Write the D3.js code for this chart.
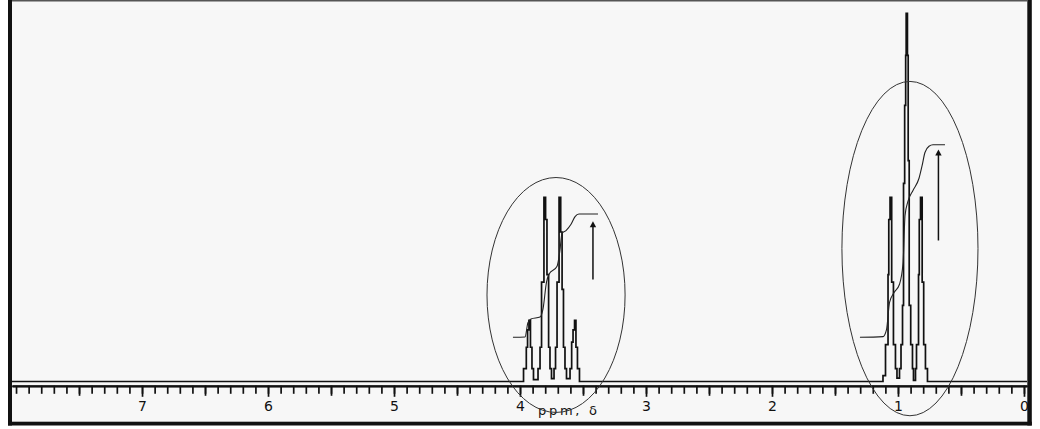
<!DOCTYPE html>
<html>
<head>
<meta charset="utf-8">
<script src="https://cdn.jsdelivr.net/npm/d3@7"></script>
<style>
  html, body { margin: 0; padding: 0; background: #fff; }
  svg { display: block; }
  text { font-family: "DejaVu Sans", sans-serif; }
</style>
</head>
<body>
<svg id="nmr" width="1040" height="429"></svg>
<script>
// labelled ppm ticks and axis title
const majorTicks = [7, 6, 5, 4, 3, 2, 1, 0];
const axisTitle = "ppm, \u03b4";

// stepped trace, [ppm, intensity] (tallest line = 100)
const quartet = [
  [3.972, 3.5], [3.950, 9.3], [3.940, 14.0], [3.929, 16.6], [3.917, 9.3], [3.905, 3.5], [3.893, 0.5],
  [3.857, 3.5], [3.841, 9.3], [3.829, 27.0], [3.810, 50.0], [3.797, 44.0], [3.786, 29.0], [3.773, 9.3], [3.762, 3.5], [3.750, 0.8],
  [3.730, 3.5], [3.718, 9.3], [3.706, 27.0], [3.690, 50.0], [3.677, 40.6], [3.666, 25.0], [3.655, 9.3], [3.643, 3.5], [3.631, 0.8],
  [3.603, 3.5], [3.590, 10.7], [3.579, 14.0], [3.567, 16.6], [3.556, 9.3], [3.544, 3.5], [3.528, 0]
];
const triplet = [
  [1.119, 1.6], [1.099, 10.0], [1.079, 29.0], [1.073, 44.0], [1.063, 50.0], [1.050, 27.0], [1.036, 10.0], [1.020, 3.5], [1.008, 0.9],
  [0.988, 3.5], [0.976, 10.0], [0.964, 20.7], [0.956, 53.8], [0.947, 75.0], [0.939, 88.6], [0.935, 100], [0.925, 88.6], [0.919, 60.0], [0.911, 20.7], [0.899, 10.0], [0.885, 3.5], [0.877, 0.3],
  [0.861, 3.5], [0.853, 10.0], [0.837, 29.0], [0.831, 44.0], [0.821, 50.0], [0.808, 27.0], [0.796, 10.0], [0.782, 3.5], [0.766, 0]
];

// integration curves
const quartetIntegral = [
  [4.056, 12.0], [3.960, 12.1], [3.937, 16.0], [3.913, 17.0], [3.841, 17.5], [3.817, 19.8], [3.790, 26.9],
  [3.770, 29.1], [3.706, 31.3], [3.683, 35.6], [3.667, 40.2], [3.635, 41.0], [3.595, 42.7], [3.563, 44.8],
  [3.532, 45.5], [3.381, 45.5]
];
const tripletIntegral = [
  [1.302, 12.0], [1.119, 12.2], [1.091, 14.1], [1.067, 21.5], [1.032, 24.1], [0.988, 26.4], [0.960, 32.1],
  [0.944, 45.1], [0.921, 48.9], [0.881, 51.9], [0.833, 55.2], [0.810, 58.4], [0.786, 62.2], [0.754, 63.9],
  [0.722, 64.3], [0.627, 64.3]
];

// circled multiplets with their integral-height arrows
const groups = [
  { cx: 3.714, cy: 23.5, rx: 0.548, ry: 31.9, arrowPpm: 3.421, arrowFrom: 27.7, arrowTo: 43.5 },
  { cx: 0.905, cy: 36.1, rx: 0.540, ry: 45.4, arrowPpm: 0.679, arrowFrom: 38.3, arrowTo: 63.0 }
];

const svg = d3.select('#nmr');

const x = d3.scaleLinear().domain([8.032, -0.024]).range([12, 1027]);
const y = d3.scaleLinear().domain([0, 100]).range([381.5, 13.3]);

// panel
svg.append('rect')
    .attr('x', 10).attr('y', 0)
    .attr('width', 1020).attr('height', 424)
    .attr('fill', '#f7f7f7');

// axis: minor, half and labelled ticks
const axisY = 385.8;
const minorVals = d3.range(0, 81).map(i => i / 10);
const halfVals = d3.range(0, 8).map(i => i + 0.5);

svg.append('g')
    .attr('class', 'axis axis--minor')
    .attr('transform', 'translate(0,' + axisY + ')')
    .call(d3.axisBottom(x).tickValues(minorVals).tickSize(8).tickSizeOuter(0).tickFormat(''));

svg.append('g')
    .attr('class', 'axis axis--half')
    .attr('transform', 'translate(0,' + axisY + ')')
    .call(d3.axisBottom(x).tickValues(halfVals).tickSize(10).tickSizeOuter(0).tickFormat(''));

svg.append('g')
    .attr('class', 'axis axis--major')
    .attr('transform', 'translate(0,' + axisY + ')')
    .call(d3.axisBottom(x).tickValues(majorTicks).tickSize(11).tickSizeOuter(0).tickPadding(4).tickFormat(d3.format('d')));

svg.selectAll('.axis path.domain').attr('stroke', '#111').attr('stroke-width', 1.7);
svg.selectAll('.axis line').attr('stroke', '#111').attr('stroke-width', 1.7);
svg.selectAll('.axis text')
    .attr('font-family', '"DejaVu Sans", sans-serif')
    .attr('font-size', 14)
    .attr('fill', '#111');

svg.append('text')
    .attr('x', 538)
    .attr('y', 415)
    .attr('font-size', 13)
    .attr('textLength', 59)
    .attr('lengthAdjust', 'spacing')
    .attr('fill', '#111')
    .text(axisTitle);

// spectrum trace, baseline to baseline
const trace = [[8.032, 0]].concat(quartet, triplet, [[-0.024, 0]]);

const line = d3.line()
    .x(d => x(d[0]))
    .y(d => y(d[1]))
    .curve(d3.curveStepAfter);

svg.append('path')
    .datum(trace)
    .attr('fill', 'none')
    .attr('stroke', '#111')
    .attr('stroke-width', 1.7)
    .attr('d', line);

// integrals
const integralLine = d3.line()
    .x(d => x(d[0]))
    .y(d => y(d[1]))
    .curve(d3.curveMonotoneX);

svg.selectAll('.integral')
  .data([quartetIntegral, tripletIntegral])
  .enter().append('path')
    .attr('class', 'integral')
    .attr('fill', 'none')
    .attr('stroke', '#222')
    .attr('stroke-width', 1.1)
    .attr('d', integralLine);

// ellipses and arrows
svg.selectAll('.ring')
  .data(groups)
  .enter().append('ellipse')
    .attr('class', 'ring')
    .attr('cx', d => x(d.cx))
    .attr('cy', d => y(d.cy))
    .attr('rx', d => x(0) - x(d.rx))
    .attr('ry', d => y(0) - y(d.ry))
    .attr('fill', 'none')
    .attr('stroke', '#333')
    .attr('stroke-width', 1);

svg.selectAll('.arrow')
  .data(groups)
  .enter().append('line')
    .attr('class', 'arrow')
    .attr('x1', d => x(d.arrowPpm)).attr('x2', d => x(d.arrowPpm))
    .attr('y1', d => y(d.arrowFrom)).attr('y2', d => y(d.arrowTo) + 4)
    .attr('stroke', '#111')
    .attr('stroke-width', 1.5);

svg.selectAll('.head')
  .data(groups)
  .enter().append('path')
    .attr('class', 'head')
    .attr('fill', '#111')
    .attr('d', d => {
      const ax = x(d.arrowPpm), ay = y(d.arrowTo);
      return 'M' + ax + ',' + ay + 'L' + (ax - 3.2) + ',' + (ay + 6) + 'L' + (ax + 3.2) + ',' + (ay + 6) + 'Z';
    });

// frame with heavy left, right and bottom edges
svg.append('rect').attr('x', 8).attr('y', 0).attr('width', 4).attr('height', 425.5).attr('fill', '#111');
svg.append('rect').attr('x', 1027.3).attr('y', 0).attr('width', 4.5).attr('height', 425.5).attr('fill', '#111');
svg.append('rect').attr('x', 8).attr('y', 421.7).attr('width', 1023.8).attr('height', 3.8).attr('fill', '#111');
svg.append('rect').attr('x', 12).attr('y', 0).attr('width', 1015.3).attr('height', 1.5).attr('fill', '#555');
</script>
</body>
</html>
